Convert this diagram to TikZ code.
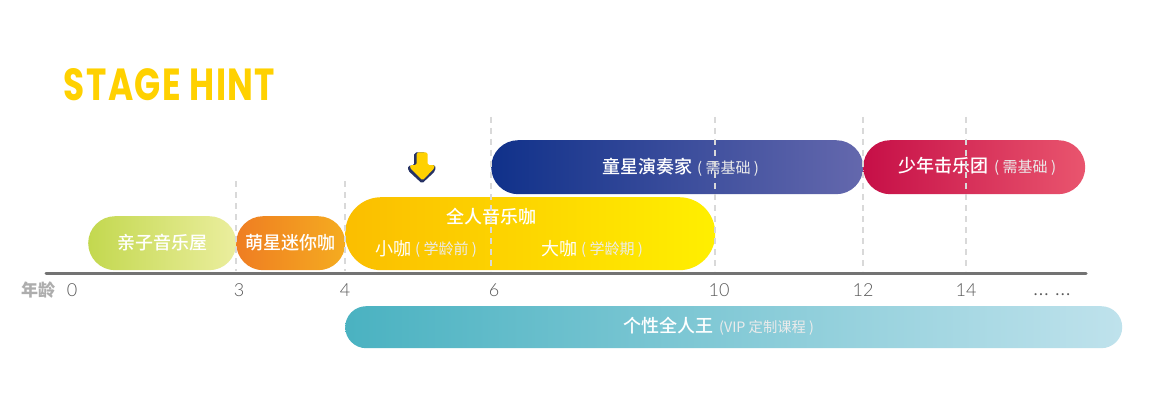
\documentclass[tikz,border=0pt]{standalone}
\usepackage{fontspec}
\setmainfont{Noto Sans CJK SC}
\newfontfamily\medfont{Noto Sans CJK SC Medium}
\newfontfamily\titlefont[LetterSpace=4]{Poppins}
\newfontfamily\numfont{Lato Light}
\newcommand{\mainsz}{\fontsize{18}{20}\selectfont}
\newcommand{\subsz}{\fontsize{15}{16}\selectfont}
\definecolor{titleyellow}{RGB}{255,209,0}
\definecolor{arrownavy}{RGB}{38,50,100}
\tikzset{
  x=1pt,y=-1pt,
  bar/.style={rectangle,draw=none,inner sep=0pt,anchor=north west,rounded corners=#1},
  lab/.style={text=white,inner sep=0pt,font=\medfont\mainsz},
  lablight/.style={text=white,inner sep=0pt,font=\mainsz},
  sublab/.style={text=white!92!black,inner sep=0pt,font=\subsz},
  num/.style={text=black!65,inner sep=0pt,font=\numfont\fontsize{18}{18}\selectfont},
  gridline/.style={draw=black!15,line width=1.1pt,dash pattern=on 6pt off 5pt},
}
\begin{document}
\begin{tikzpicture}
\useasboundingbox (0,0) rectangle (1151,401);
\fill[white] (0,0) rectangle (1151,401);

\node[text=titleyellow,inner sep=0pt,font=\titlefont\bfseries] (title) at (169.5,85) {\resizebox{211pt}{32pt}{STAGE HINT}};

% bars
\node[bar=27pt,minimum width=148pt,minimum height=54pt,left color={rgb,255:red,195;green,216;blue,79},right color={rgb,255:red,235;green,238;blue,158}] (qinzi) at (88,216) {};
\node[bar=27pt,minimum width=109pt,minimum height=54pt,left color={rgb,255:red,239;green,125;blue,34},right color={rgb,255:red,245;green,172;blue,32}] (mengxing) at (236,216) {};
\node[bar=36pt,minimum width=370pt,minimum height=73pt,left color={rgb,255:red,251;green,190;blue,0},right color={rgb,255:red,255;green,239;blue,0}] (quanren) at (345,197) {};
\node[bar=27pt,minimum width=372pt,minimum height=54pt,left color={rgb,255:red,16;green,49;blue,138},right color={rgb,255:red,100;green,104;blue,173}] (tongxing) at (491,140) {};
\node[bar=27pt,minimum width=222pt,minimum height=54pt,left color={rgb,255:red,198;green,15;blue,71},right color={rgb,255:red,233;green,85;blue,110}] (shaonian) at (863,140) {};
\node[bar=21pt,minimum width=777pt,minimum height=42pt,left color={rgb,255:red,74;green,178;blue,193},right color={rgb,255:red,191;green,226;blue,236}] (gexing) at (345,306) {};

% labels
\node[lab] (l1) at (162,243) {亲子音乐屋};
\node[lab] (l2) at (290.5,243) {萌星迷你咖};
\node[lab] (l3) at (491.5,217) {全人音乐咖};
\node[lablight,anchor=west] (l4) at (375,249) {小咖};
\node[sublab,anchor=west] (l4s) at (415,250) {( 学龄前 )};
\node[lablight,anchor=west] (l5) at (541,249) {大咖};
\node[sublab,anchor=west] (l5s) at (581,250) {( 学龄期 )};
\node[lab,anchor=west] (l6) at (602,167) {童星演奏家};
\node[sublab,anchor=west] (l6s) at (697,169) {( 需基础 )};
\node[lab,anchor=west] (l7) at (898,166) {少年击乐团};
\node[sublab,anchor=west] (l7s) at (994,168) {( 需基础 )};
\node[lab,anchor=west] (l8) at (623,326) {个性全人王};
\node[sublab,anchor=west,font=\fontsize{14.3}{15}\selectfont] (l8s) at (719,328) {(VIP 定制课程 )};

% guide lines
\foreach \n/\x/\t in {a/236/181,b/345/181,c/491/117,d/715/117,e/863/117,f/966/117}{
  \coordinate (\n t) at (\x,\t);
  \coordinate (\n b) at (\x,271);
  \draw[gridline] (\n t) -- (\n b);
}

% axis
\coordinate (axisL) at (46,273.5);
\coordinate (axisR) at (1086,273.5);
\draw[line width=3pt,draw=black!55,line cap=round] (axisL) -- (axisR);

\node[text=black!32,inner sep=0pt,font=\fontsize{17}{18}\selectfont\bfseries] (age) at (38,290) {年龄};
\node[num] (n0) at (72,290) {0};
\node[num] (n3) at (239,290) {3};
\node[num] (n4) at (345,290) {4};
\node[num] (n6) at (494,290) {6};
\node[num] (n10) at (719,290) {10};
\node[num] (n12) at (863,290) {12};
\node[num] (n14) at (966,290) {14};
\node[num,font=\numfont\fontsize{22}{22}\selectfont] (dots) at (1052,295) {… …};

% marker arrow
\fill[rounded corners=1.8pt,fill=arrownavy] (414.2,152.5) -- (426,152.5) -- (426,165) -- (435.3,165) -- (435.3,171) -- (422,183.5) -- (408,170.5) -- (408,165.5) -- (414.2,165.5) -- cycle;
\fill[rounded corners=1.5pt,fill=titleyellow] (416.7,152.5) -- (427.5,152.5) -- (427.5,165) -- (434.5,165) -- (434.5,168) -- (422.5,180.5) -- (410,168) -- (410,165) -- (416.7,165) -- cycle;
\end{tikzpicture}
\end{document}
